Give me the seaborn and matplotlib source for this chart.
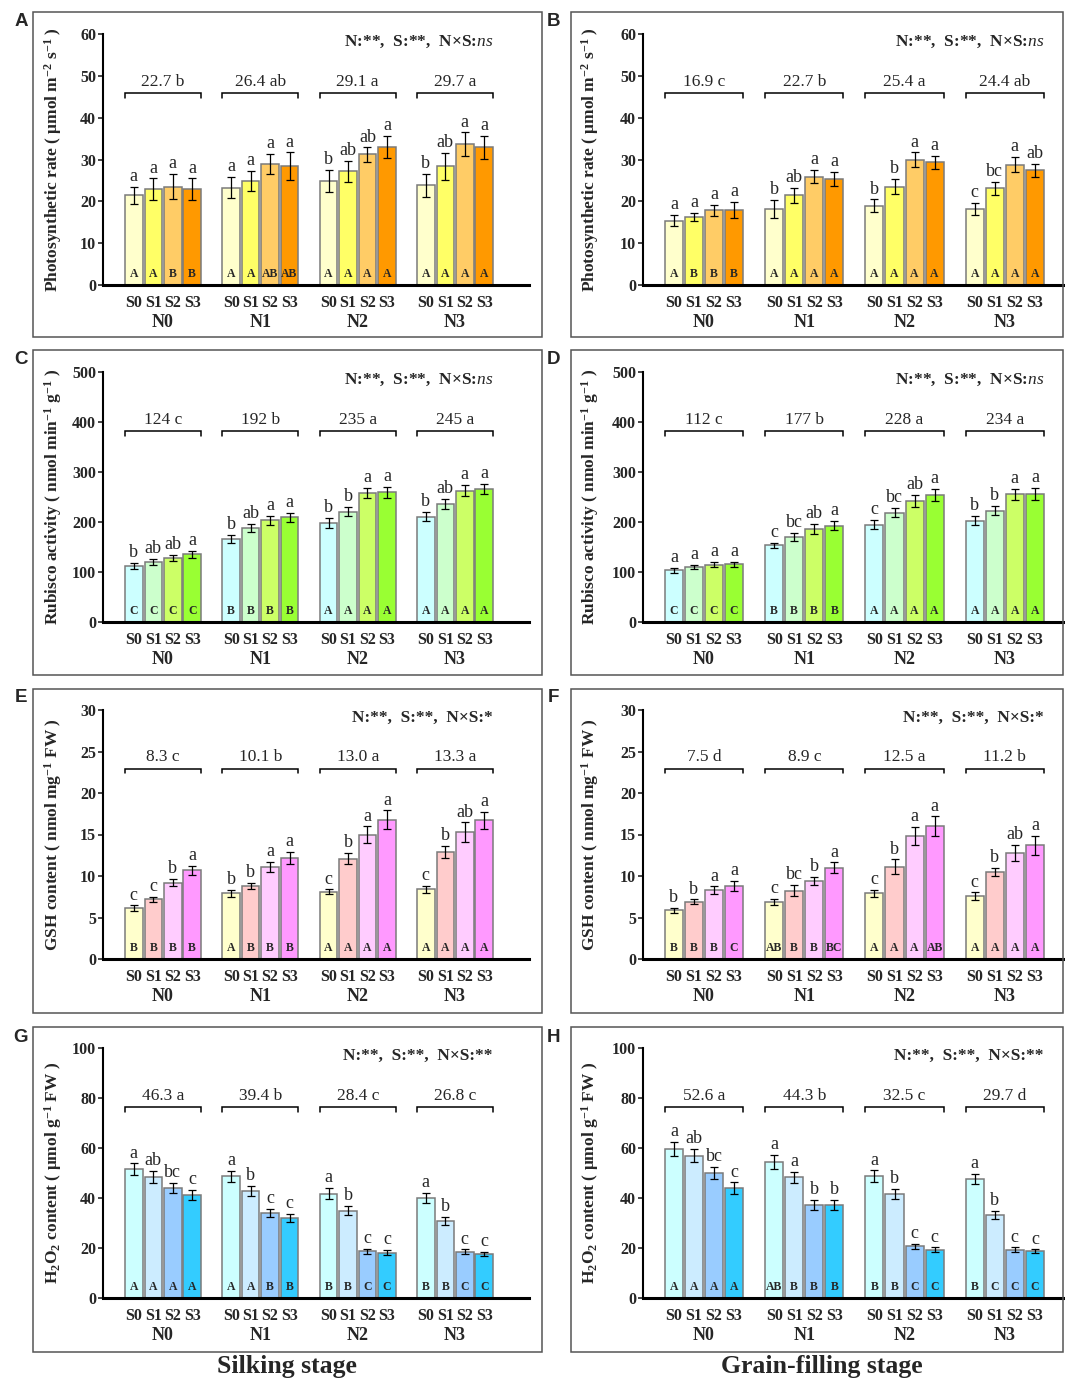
import numpy as np
import pandas as pd
import matplotlib.pyplot as plt
import matplotlib.transforms as mtransforms
from matplotlib.patches import Rectangle
import seaborn as sns

sns.set_style('white')
plt.rcParams['font.family'] = ['Liberation Serif', 'DejaVu Serif']
plt.rcParams['mathtext.fontset'] = 'custom'
plt.rcParams['mathtext.rm'] = 'Liberation Serif:bold'
plt.rcParams['mathtext.it'] = 'Liberation Serif:italic'
plt.rcParams['mathtext.bf'] = 'Liberation Serif:bold'

n_levels = ['N0', 'N1', 'N2', 'N3']
s_levels = ['S0', 'S1', 'S2', 'S3']

# A - photosynthetic rate, silking
pn_silk = [21.4, 22.9, 23.5, 22.9, 23.3, 24.9, 29.0, 28.4, 24.9, 27.2, 31.2, 33.0, 23.8, 28.4, 33.7, 32.9]
pn_silk_err = [2.1, 2.6, 3.0, 2.6, 2.5, 2.4, 2.4, 3.3, 2.7, 2.5, 1.7, 2.7, 2.7, 3.2, 2.8, 2.8]
pn_silk_low = ['a', 'a', 'a', 'a', 'a', 'a', 'a', 'a', 'b', 'ab', 'ab', 'a', 'b', 'ab', 'a', 'a']
pn_silk_cap = ['A', 'A', 'B', 'B', 'A', 'A', 'AB', 'AB', 'A', 'A', 'A', 'A', 'A', 'A', 'A', 'A']
pn_silk_mean = ['22.7 b', '26.4 ab', '29.1 a', '29.7 a']

# B - photosynthetic rate, grain filling
pn_fill = [15.4, 16.3, 17.9, 17.9, 18.2, 21.4, 25.9, 25.3, 19.0, 23.5, 30.0, 29.3, 18.2, 23.1, 28.8, 27.4]
pn_fill_err = [1.3, 1.0, 1.3, 2.0, 2.1, 1.9, 1.6, 1.7, 1.5, 1.8, 1.7, 1.5, 1.5, 1.6, 1.9, 1.5]
pn_fill_low = ['a', 'a', 'a', 'a', 'b', 'ab', 'a', 'a', 'b', 'b', 'a', 'a', 'c', 'bc', 'a', 'ab']
pn_fill_cap = ['A', 'B', 'B', 'B', 'A', 'A', 'A', 'A', 'A', 'A', 'A', 'A', 'A', 'A', 'A', 'A']
pn_fill_mean = ['16.9 c', '22.7 b', '25.4 a', '24.4 ab']

# C - rubisco, silking
rub_silk = [112, 121, 129, 136, 166, 188, 204, 210, 199, 221, 259, 260, 211, 237, 263, 267]
rub_silk_err = [6, 6, 6, 7, 8, 8, 9, 9, 10, 9, 10, 11, 9, 10, 11, 10]
rub_silk_low = ['b', 'ab', 'ab', 'a', 'b', 'ab', 'a', 'a', 'b', 'b', 'a', 'a', 'b', 'ab', 'a', 'a']
rub_silk_cap = ['C'] * 4 + ['B'] * 4 + ['A'] * 8
rub_silk_mean = ['124 c', '192 b', '235 a', '245 a']

# D - rubisco, grain filling
rub_fill = [104, 110, 115, 116, 154, 170, 187, 193, 195, 219, 243, 255, 203, 223, 256, 257]
rub_fill_err = [5, 4, 5, 5, 5, 8, 10, 9, 9, 9, 12, 12, 9, 9, 11, 12]
rub_fill_low = ['a', 'a', 'a', 'a', 'c', 'bc', 'ab', 'a', 'c', 'bc', 'ab', 'a', 'b', 'b', 'a', 'a']
rub_fill_cap = ['C'] * 4 + ['B'] * 4 + ['A'] * 8
rub_fill_mean = ['112 c', '177 b', '228 a', '234 a']

# E - GSH, silking
gsh_silk = [6.1, 7.2, 9.2, 10.7, 7.9, 8.8, 11.1, 12.2, 8.1, 12.1, 15.0, 16.8, 8.4, 12.9, 15.3, 16.7]
gsh_silk_err = [0.35, 0.3, 0.45, 0.55, 0.4, 0.4, 0.6, 0.7, 0.3, 0.7, 1.0, 1.1, 0.4, 0.7, 1.15, 1.0]
gsh_silk_low = ['c', 'c', 'b', 'a', 'b', 'b', 'a', 'a', 'c', 'b', 'a', 'a', 'c', 'b', 'ab', 'a']
gsh_silk_cap = ['B', 'B', 'B', 'B', 'A', 'B', 'B', 'B', 'A', 'A', 'A', 'A', 'A', 'A', 'A', 'A']
gsh_silk_mean = ['8.3 c', '10.1 b', '13.0 a', '13.3 a']

# F - GSH, grain filling
gsh_fill = [5.85, 6.9, 8.3, 8.8, 6.85, 8.25, 9.4, 11.0, 7.9, 11.1, 14.8, 16.0, 7.55, 10.5, 12.8, 13.7]
gsh_fill_err = [0.3, 0.3, 0.45, 0.65, 0.4, 0.7, 0.5, 0.65, 0.45, 0.9, 1.1, 1.2, 0.5, 0.5, 0.95, 1.15]
gsh_fill_low = ['b', 'b', 'a', 'a', 'c', 'bc', 'b', 'a', 'c', 'b', 'a', 'a', 'c', 'b', 'ab', 'a']
gsh_fill_cap = ['B', 'B', 'B', 'C', 'AB', 'B', 'B', 'BC', 'A', 'A', 'A', 'AB', 'A', 'A', 'A', 'A']
gsh_fill_mean = ['7.5 d', '8.9 c', '12.5 a', '11.2 b']

# G - H2O2, silking
h2o2_silk = [51.5, 48.5, 44.0, 41.4, 48.7, 42.8, 34.1, 32.2, 41.8, 35.0, 18.7, 18.2, 40.2, 30.9, 18.6, 17.6]
h2o2_silk_err = [2.4, 2.4, 2.0, 2.0, 2.1, 2.0, 1.7, 1.6, 2.2, 1.9, 0.9, 1.0, 2.0, 1.6, 0.9, 0.8]
h2o2_silk_low = ['a', 'ab', 'bc', 'c', 'a', 'b', 'c', 'c', 'a', 'b', 'c', 'c', 'a', 'b', 'c', 'c']
h2o2_silk_cap = ['A', 'A', 'A', 'A', 'A', 'A', 'B', 'B', 'B', 'B', 'C', 'C', 'B', 'B', 'C', 'C']
h2o2_silk_mean = ['46.3 a', '39.4 b', '28.4 c', '26.8 c']

# H - H2O2, grain filling
h2o2_fill = [59.6, 57.0, 50.1, 43.9, 54.5, 48.3, 37.2, 37.2, 48.7, 41.7, 20.7, 19.3, 47.6, 33.2, 19.4, 18.7]
h2o2_fill_err = [2.8, 2.6, 2.4, 2.4, 2.7, 2.1, 2.0, 2.0, 2.4, 1.9, 1.1, 1.0, 2.1, 1.6, 0.9, 0.8]
h2o2_fill_low = ['a', 'ab', 'bc', 'c', 'a', 'a', 'b', 'b', 'a', 'b', 'c', 'c', 'a', 'b', 'c', 'c']
h2o2_fill_cap = ['A', 'A', 'A', 'A', 'AB', 'B', 'B', 'B', 'B', 'B', 'C', 'C', 'B', 'C', 'C', 'C']
h2o2_fill_mean = ['52.6 a', '44.3 b', '32.5 c', '29.7 d']

pal_pn = ['#FFFFCC', '#FFFF66', '#FFCC66', '#FF9900']
pal_rub = ['#CCFFFF', '#CCFFCC', '#CCFF66', '#99FF33']
pal_gsh = ['#FFFFCC', '#FFCCCC', '#FFCCFF', '#FF99FF']
pal_h2o2 = ['#CCFFFF', '#CCECFF', '#99CCFF', '#33CCFF']

lab_pn = r'Photosynthetic rate ( μmol m$^{-2}$ s$^{-1}$ )'
lab_rub = r'Rubisco activity ( nmol min$^{-1}$ g$^{-1}$ )'
lab_gsh = r'GSH content ( nmol mg$^{-1}$ FW )'
lab_h2o2 = r'H$_2$O$_2$ content ( μmol g$^{-1}$ FW )'

stat_ns = r'N:**,  S:**,  N×S:$\mathit{ns}$'
stat_1 = 'N:**,  S:**,  N×S:*'
stat_2 = 'N:**,  S:**,  N×S:**'

panels = [
    ('A', pn_silk, pn_silk_err, pn_silk_low, pn_silk_cap, pn_silk_mean, pal_pn, lab_pn, stat_ns, 60, 10),
    ('B', pn_fill, pn_fill_err, pn_fill_low, pn_fill_cap, pn_fill_mean, pal_pn, lab_pn, stat_ns, 60, 10),
    ('C', rub_silk, rub_silk_err, rub_silk_low, rub_silk_cap, rub_silk_mean, pal_rub, lab_rub, stat_ns, 500, 100),
    ('D', rub_fill, rub_fill_err, rub_fill_low, rub_fill_cap, rub_fill_mean, pal_rub, lab_rub, stat_ns, 500, 100),
    ('E', gsh_silk, gsh_silk_err, gsh_silk_low, gsh_silk_cap, gsh_silk_mean, pal_gsh, lab_gsh, stat_1, 30, 5),
    ('F', gsh_fill, gsh_fill_err, gsh_fill_low, gsh_fill_cap, gsh_fill_mean, pal_gsh, lab_gsh, stat_1, 30, 5),
    ('G', h2o2_silk, h2o2_silk_err, h2o2_silk_low, h2o2_silk_cap, h2o2_silk_mean, pal_h2o2, lab_h2o2, stat_2, 100, 20),
    ('H', h2o2_fill, h2o2_fill_err, h2o2_fill_low, h2o2_fill_cap, h2o2_fill_mean, pal_h2o2, lab_h2o2, stat_2, 100, 20),
]

# layout in pixels
W, H = 1065, 1381
rows = [(34, 285), (372, 622), (710, 959), (1048, 1298)]
boxes_y = [(12, 337), (350, 675), (689, 1013), (1027, 1352)]
cols = [(103, 529, -1.585, 20.3), (643, 1063, -1.54, 19.4)]
boxes_x = [(33, 542), (571, 1063)]
letter_x = [21, 553]
letter_y = [21, 359, 698, 1037]
ylab_x = [53, 590]

pos = [g * 5 + i for g in range(4) for i in range(4)]
bw = 0.9

fig = plt.figure(figsize=(W / 100, H / 100), dpi=100)

for k, (tag, vals, errs, low, caps, means, pal, ylab, stat, ymax, ystep) in enumerate(panels):
    r, c = divmod(k, 2)
    top, bot = rows[r]
    left, right, x0, x1 = cols[c]
    ax = fig.add_axes([left / W, 1 - bot / H, (right - left) / W, (bot - top) / H])

    df = pd.DataFrame({'pos': pos, 'val': vals, 'S': s_levels * 4})
    sns.barplot(data=df, x='pos', y='val', hue='S', palette=pal, native_scale=True,
                dodge=False, width=bw, saturation=1, edgecolor='#7a7a7a', linewidth=1.1,
                errorbar=None, legend=False, ax=ax)
    ax.errorbar(df.pos, df.val, yerr=errs, fmt='none', ecolor='black',
                elinewidth=0.9, capsize=3, capthick=0.9)

    ax.set_xlim(x0, x1)
    ax.set_ylim(0, ymax)
    ax.set_yticks(np.arange(0, ymax + 1, ystep))
    ax.set_xticks(pos, s_levels * 4)
    ax.set_xlabel('')
    ax.set_ylabel('')
    for s in ['top', 'right']:
        ax.spines[s].set_visible(False)
    ax.spines['left'].set_linewidth(1.5)
    ax.spines['bottom'].set_linewidth(2.2)
    ax.spines['left'].set_color('black')
    ax.spines['bottom'].set_color('black')
    ax.tick_params(axis='y', direction='out', length=3.5, width=1.2, pad=1.5,
                   labelsize=11.5, left=True)
    ax.tick_params(axis='x', length=0, pad=7.5, labelsize=11.5)
    for t in ax.get_xticklabels() + ax.get_yticklabels():
        t.set_fontweight('bold')

    trans = mtransforms.blended_transform_factory(ax.transData, ax.transAxes)
    for i, p in enumerate(pos):
        ax.annotate(low[i], (p, vals[i] + errs[i]), xytext=(0, 1.2),
                    textcoords='offset points', ha='center', va='bottom', fontsize=13)
        ax.text(p, ymax * 0.045, caps[i], ha='center', va='center',
                fontsize=8.5, fontweight='bold')

    yb = ymax * 0.763
    for g in range(4):
        xa, xb = g * 5 - bw / 2, g * 5 + 3 + bw / 2
        ax.plot([xa, xa, xb, xb], [yb - ymax * 0.018, yb, yb, yb - ymax * 0.018],
                color='black', lw=1.1, solid_joinstyle='miter')
        ax.text(g * 5 + 1.5, ymax * 0.81, means[g], ha='center', va='center', fontsize=12.5)
        ax.text(g * 5 + 1.5, -0.151, n_levels[g], transform=trans, ha='center',
                va='center', fontsize=13, fontweight='bold')

    ax.text(15 + 3 + bw / 2, ymax * 0.969, stat, ha='right', va='center',
            fontsize=12.5, fontweight='bold')

    fig.text(ylab_x[c] / W, 1 - (top + bot) / 2 / H, ylab, rotation=90, ha='center',
             va='center', fontsize=12.5, fontweight='bold')
    fig.text(letter_x[c] / W, 1 - letter_y[r] / H, tag, ha='center', va='center',
             fontsize=13.5, fontweight='bold', family=['Liberation Sans', 'DejaVu Sans'])

    bx0, bx1 = boxes_x[c]
    by0, by1 = boxes_y[r]
    fig.add_artist(Rectangle((bx0 / W, 1 - by1 / H), (bx1 - bx0) / W, (by1 - by0) / H,
                             transform=fig.transFigure, fill=False, edgecolor='#555555', lw=1.1))

fig.text(287 / W, 1 - 1367 / H, 'Silking stage', ha='center', va='center',
         fontsize=18.5, fontweight='bold')
fig.text(822 / W, 1 - 1367 / H, 'Grain-filling stage', ha='center', va='center',
         fontsize=18.5, fontweight='bold')

fig.savefig('out.png', dpi=100)
